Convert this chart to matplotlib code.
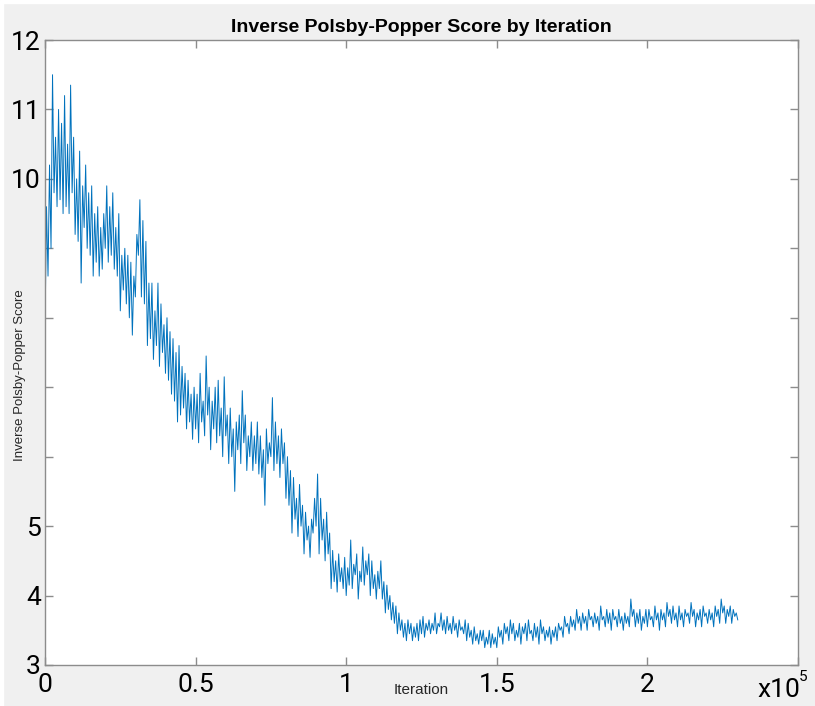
import numpy as np
import matplotlib
matplotlib.use("Agg")
from matplotlib import pyplot as plt
from matplotlib.patches import Rectangle

# score, one value every 500 iterations (0 .. 230k)
step = 500
scores = [
    7.8, 9.6, 8.6, 10.2, 9.0, 11.5, 9.8, 10.6, 9.6, 11.0,
    9.7, 10.8, 9.5, 11.2, 9.6, 10.5, 9.5, 11.35, 9.8, 10.6,
    9.2, 10.0, 9.1, 10.4, 8.5, 9.9, 9.3, 10.2, 9.0, 9.8,
    8.9, 9.9, 8.6, 9.5, 8.8, 9.6, 8.6, 9.3, 8.7, 9.5,
    9.0, 9.9, 8.8, 9.6, 8.9, 9.8, 8.7, 9.3, 8.6, 9.5,
    8.1, 8.9, 8.4, 9.0, 8.2, 8.9, 8.0, 8.8, 7.75, 8.6,
    8.3, 9.2, 8.9, 9.7, 8.3, 9.4, 8.2, 9.1, 7.6, 8.5,
    7.7, 8.5, 7.4, 8.1, 7.6, 8.5, 7.3, 8.2, 7.5, 7.9,
    7.2, 8.0, 7.1, 7.8, 6.9, 7.7, 6.8, 7.5, 6.5, 7.6,
    6.6, 7.3, 6.7, 7.2, 6.4, 7.1, 6.5, 6.9, 6.25, 7.0,
    6.4, 6.9, 6.2, 7.2, 6.5, 6.8, 6.3, 7.45, 6.6, 7.0,
    6.1, 6.8, 6.4, 7.0, 6.2, 7.1, 6.3, 6.7, 6.0, 7.15,
    6.3, 6.6, 5.9, 6.7, 6.0, 6.4, 5.5, 6.5, 6.1, 6.6,
    5.9, 6.95, 6.2, 6.6, 5.8, 6.3, 6.0, 6.5, 5.8, 6.3,
    5.9, 6.5, 5.75, 6.3, 5.7, 6.1, 5.3, 6.4, 5.9, 6.2,
    6.0, 6.85, 5.8, 6.5, 5.9, 6.3, 5.7, 6.4, 5.9, 6.2,
    5.4, 6.0, 5.3, 5.8, 4.9, 5.7, 5.1, 5.4, 4.85, 5.6,
    5.0, 5.3, 4.6, 5.2, 4.8, 5.0, 4.55, 5.1, 4.9, 5.4,
    5.0, 5.75, 4.6, 5.4, 4.8, 5.1, 4.5, 5.2, 4.6, 4.9,
    4.1, 4.65, 4.2, 4.5, 4.05, 4.6, 4.2, 4.4, 4.1, 4.55,
    4.0, 4.4, 4.15, 4.8, 4.1, 4.45, 4.3, 4.6, 3.95, 4.35,
    4.2, 4.7, 4.15, 4.5, 4.3, 4.6, 4.0, 4.5, 4.1, 4.3,
    3.95, 4.35, 4.1, 4.5, 3.95, 4.2, 3.75, 4.15, 3.8, 4.0,
    3.65, 3.9, 3.6, 3.85, 3.45, 3.75, 3.5, 3.65, 3.4, 3.6,
    3.35, 3.65, 3.45, 3.6, 3.35, 3.55, 3.4, 3.6, 3.35, 3.65,
    3.45, 3.7, 3.4, 3.6, 3.5, 3.65, 3.45, 3.6, 3.5, 3.75,
    3.45, 3.6, 3.55, 3.75, 3.5, 3.65, 3.45, 3.7, 3.5, 3.6,
    3.45, 3.7, 3.5, 3.6, 3.4, 3.65, 3.5, 3.55, 3.45, 3.65,
    3.35, 3.6, 3.4, 3.5, 3.3, 3.55, 3.35, 3.45, 3.3, 3.5,
    3.35, 3.5, 3.25, 3.4, 3.3, 3.5, 3.25, 3.45, 3.3, 3.4,
    3.25, 3.55, 3.4, 3.5, 3.3, 3.6, 3.45, 3.55, 3.35, 3.65,
    3.45, 3.6, 3.35, 3.5, 3.4, 3.6, 3.3, 3.55, 3.45, 3.6,
    3.35, 3.65, 3.45, 3.5, 3.35, 3.6, 3.4, 3.55, 3.3, 3.65,
    3.45, 3.55, 3.35, 3.5, 3.4, 3.55, 3.3, 3.5, 3.4, 3.55,
    3.35, 3.6, 3.5, 3.55, 3.4, 3.7, 3.55, 3.6, 3.45, 3.7,
    3.55, 3.65, 3.5, 3.8, 3.6, 3.7, 3.5, 3.75, 3.6, 3.7,
    3.5, 3.8, 3.65, 3.7, 3.55, 3.75, 3.6, 3.7, 3.5, 3.85,
    3.65, 3.7, 3.55, 3.8, 3.6, 3.75, 3.5, 3.8, 3.65, 3.7,
    3.55, 3.8, 3.6, 3.7, 3.5, 3.75, 3.6, 3.7, 3.55, 3.95,
    3.7, 3.8, 3.55, 3.75, 3.6, 3.8, 3.5, 3.7, 3.6, 3.8,
    3.55, 3.8, 3.65, 3.7, 3.55, 3.85, 3.65, 3.75, 3.5, 3.8,
    3.65, 3.75, 3.55, 3.9, 3.7, 3.8, 3.6, 3.85, 3.65, 3.75,
    3.55, 3.85, 3.65, 3.75, 3.55, 3.8, 3.7, 3.75, 3.6, 3.9,
    3.7, 3.8, 3.55, 3.75, 3.65, 3.8, 3.55, 3.85, 3.7, 3.75,
    3.6, 3.8, 3.65, 3.75, 3.55, 3.85, 3.7, 3.8, 3.6, 3.95,
    3.75, 3.85, 3.6, 3.8, 3.7, 3.85, 3.6, 3.8, 3.7, 3.75,
    3.65,
]
iterations = np.arange(len(scores)) * step

x_ticks = [0, 50000, 100000, 150000, 200000, 250000]
x_tick_labels = ['0', '0.5', '1', '1.5', '2', '']
y_ticks = [3, 4, 5, 6, 7, 8, 9, 10, 11, 12]
y_tick_labels = ['3', '4', '5', '', '', '', '', '10', '11', '12']

W, H = 815, 706
fig = plt.figure(figsize=(W / 100, H / 100), dpi=100, facecolor='#f0f0f0')
# thin white margin at top and left like the screenshot
fig.patches.append(Rectangle((0, 1 - 3 / H), 1, 3 / H, transform=fig.transFigure, color='white', zorder=0))
fig.patches.append(Rectangle((0, 0), 3 / W, 1, transform=fig.transFigure, color='white', zorder=0))

left, right, top, bottom = 45, 798, 40, 665
ax = fig.add_axes([left / W, 1 - bottom / H, (right - left) / W, (bottom - top) / H])
ax.set_facecolor('white')

ax.plot(iterations, scores, color='#0072BD', linewidth=0.7)

ax.set_xlim(0, 250000)
ax.set_ylim(3, 12)
ax.set_xticks(x_ticks)
ax.set_xticklabels(x_tick_labels)
ax.set_yticks(y_ticks)
ax.set_yticklabels(y_tick_labels)

tick_font = ['Roboto', 'DejaVu Sans']
for lab in ax.get_xticklabels() + ax.get_yticklabels():
    lab.set_family(tick_font)
    lab.set_fontsize(19)

ax.tick_params(direction='in', length=6, width=1, color='#8c8c8c',
               top=True, right=True, pad=3)
ax.tick_params(axis='x', pad=6)
for s in ax.spines.values():
    s.set_color('#8c8c8c')
    s.set_linewidth(1)

ax.set_title('Inverse Polsby-Popper Score by Iteration', fontsize=14,
             fontweight='bold', family='Liberation Sans', pad=6)

fig.text(421 / W, 1 - 690 / H, 'Iteration', ha='center', va='center',
         fontsize=11, family='Liberation Sans', color='#262626')
fig.text(20 / W, 1 - 375 / H, 'Inverse Polsby-Popper Score', ha='center', va='center',
         rotation=90, fontsize=9.5, family='Liberation Sans', color='#262626')
fig.text(757 / W, 1 - 690 / H, 'x10', ha='left', va='center',
         fontsize=19, family=tick_font)
fig.text(799 / W, 1 - 677 / H, '5', ha='left', va='center',
         fontsize=11, family=tick_font)

fig.savefig('out.png', dpi=100, facecolor=fig.get_facecolor())
